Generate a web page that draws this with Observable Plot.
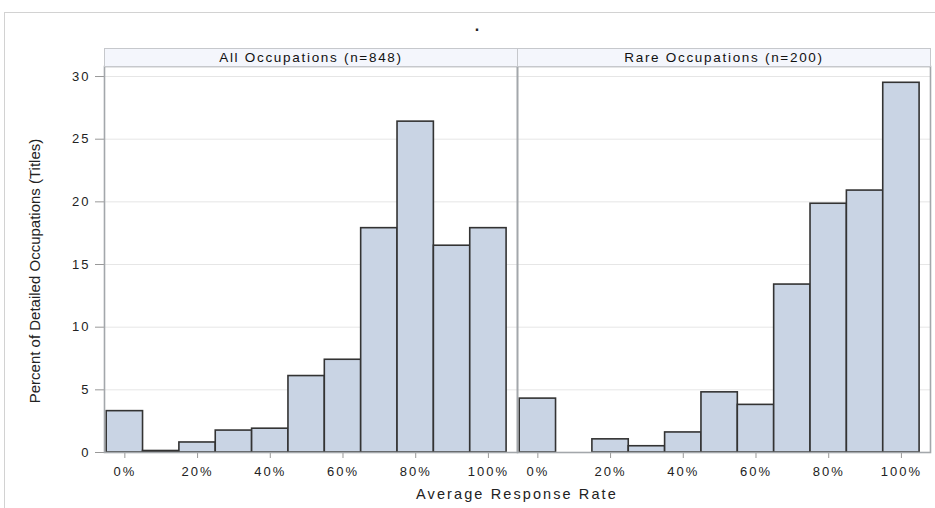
<!DOCTYPE html>
<html>
<head>
<meta charset="utf-8">
<script src="https://cdn.jsdelivr.net/npm/d3@7"></script>
<script src="https://cdn.jsdelivr.net/npm/@observablehq/plot@0.6"></script>
<style>
  body { margin: 0; background: #fff; }
  #chart svg { display: block; }
  #chart text { letter-spacing: 2px; }
</style>
</head>
<body>
<div id="chart"></div>
<script>
// ---- data ----
const panels = ["All Occupations (n=848)", "Rare Occupations (n=200)"];
const bins = [0, 10, 20, 30, 40, 50, 60, 70, 80, 90, 100];            // bin midpoints (%)
const allPct = [3.3, 0.12, 0.8, 1.75, 1.9, 6.1, 7.4, 17.9, 26.4, 16.5, 17.9];
const rarePct = [4.3, 0, 1.05, 0.5, 1.6, 4.8, 3.8, 13.4, 19.85, 20.9, 29.5];
const yTicks = [0, 5, 10, 15, 20, 25, 30];
const xTicks = [0, 20, 40, 60, 80, 100];
const binWidth = 10;
const xLabel = "Average Response Rate";
const yLabel = "Percent of Detailed Occupations (Titles)";
const title = ".";

const rows = panels.flatMap((p, i) =>
  bins.map((b, j) => ({panel: p, bin: b, pct: (i === 0 ? allPct : rarePct)[j]}))
);

const plot = Plot.plot({
  width: 935,
  height: 508,
  marginLeft: 103,
  marginRight: 5,
  marginTop: 66,
  marginBottom: 56,
  style: {fontFamily: "'Liberation Sans', Arial, sans-serif", fontSize: "13px", color: "#222", background: "#fff"},
  fx: {domain: panels, padding: 0, axis: null},
  x: {domain: [-5.6, 108], ticks: xTicks, tickFormat: d => d + "%", tickSize: 6, tickPadding: 8, label: null},
  y: {domain: [0, 30.8], ticks: yTicks, tickSize: 9, tickPadding: 5, label: null},
  marks: [
    Plot.ruleY(yTicks.filter(d => d > 0), {stroke: "#e6e6e6", strokeWidth: 1}),
    Plot.rectY(rows, {
      fx: "panel",
      filter: d => d.pct > 0,
      x1: d => d.bin - binWidth / 2,
      x2: d => d.bin + binWidth / 2,
      y: "pct",
      fill: "#c9d4e4",
      stroke: "#333",
      strokeWidth: 1.6
    }),
    Plot.frame({stroke: "#a3a7ab", strokeWidth: 1.6}),
    Plot.frame({fill: "#f4f6fc", stroke: "#c6c8cc", strokeWidth: 1, insetTop: -18, insetBottom: 386}),
    Plot.text(panels, {fx: d => d, text: d => d, frameAnchor: "top", lineAnchor: "middle", dy: -9, fontSize: 13.5, fill: "#111"})
  ]
});

document.getElementById("chart").appendChild(plot);

const svg = d3.select(plot.tagName.toLowerCase() === "svg" ? plot : plot.querySelector("svg"));
// outer border
svg.insert("rect", ":first-child")
  .attr("x", 4.5).attr("y", 12.5).attr("width", 960).attr("height", 520)
  .attr("fill", "none").attr("stroke", "#d2d2d2");
// tick marks in gray
svg.selectAll("[aria-label$='tick'] path, [aria-label$='tick'] line, .tick line").attr("stroke", "#999");
// header text spacing
svg.selectAll("[aria-label='text'] text").style("letter-spacing", "1.7px");
// title
svg.append("text").attr("x", 477).attr("y", 31).attr("text-anchor", "middle")
  .attr("font-size", 16).attr("font-weight", "bold").style("letter-spacing", "0px").text(title);
// x label
svg.append("text").attr("x", 517).attr("y", 499).attr("text-anchor", "middle")
  .attr("font-size", 14.5).style("letter-spacing", "2.1px").attr("fill", "#222").text(xLabel);
// y label
svg.append("text").attr("transform", "translate(40,271) rotate(-90)").attr("text-anchor", "middle")
  .attr("font-size", 15).style("letter-spacing", "0px").attr("fill", "#222").text(yLabel);
</script>
</body>
</html>
